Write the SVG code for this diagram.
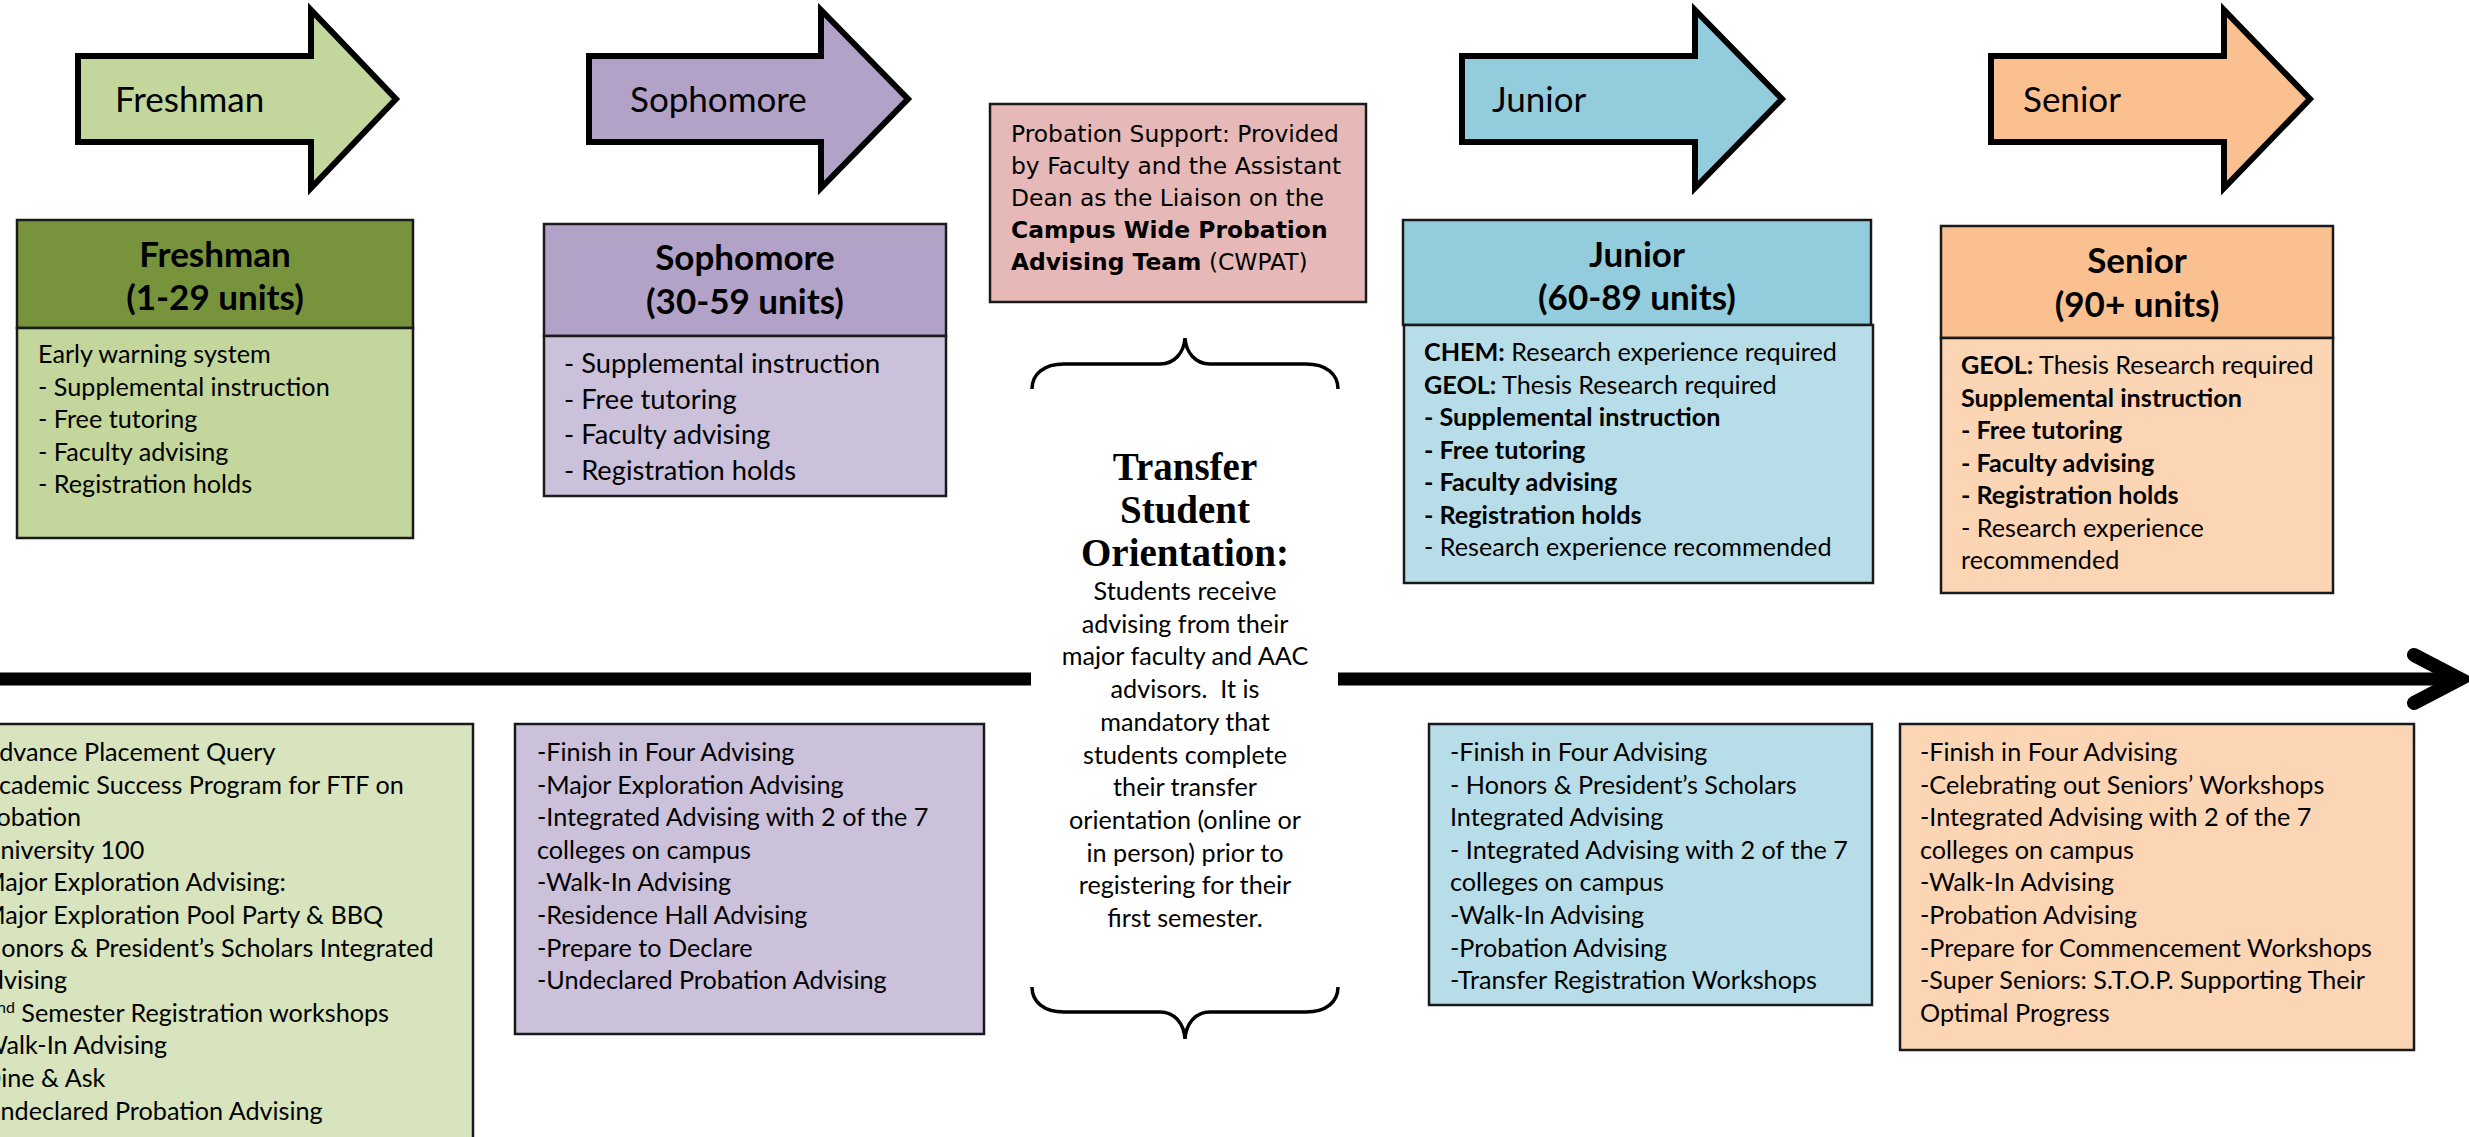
<svg xmlns="http://www.w3.org/2000/svg" width="2469" height="1137" viewBox="0 0 2469 1137">
<style>
.ar{stroke:#000;stroke-width:6;stroke-linejoin:miter}
.bx{stroke:#1a1a1a;stroke-width:2.5}
.al{font-family:Lato,"Liberation Sans",sans-serif;font-size:35px;fill:#000}
.hd{font-family:Lato,"Liberation Sans",sans-serif;font-size:35px;font-weight:bold;fill:#000;text-anchor:middle}
.t{font-family:Lato,"Liberation Sans",sans-serif;font-size:25.2px;fill:#000}
.tb{font-weight:bold}
.pv{font-family:"DejaVu Sans",Verdana,sans-serif;font-size:23.4px;fill:#000}
.ttl{font-family:"Liberation Serif","Times New Roman",serif;font-size:39px;font-weight:bold;fill:#000;text-anchor:middle}
.ctr{text-anchor:middle}
.br{fill:none;stroke:#000;stroke-width:3.5}
</style>

<g id="connectors">
  <line x1="-5" y1="679" x2="1031" y2="679" stroke="#000" stroke-width="13"/>
  <line x1="1338" y1="679" x2="2455" y2="679" stroke="#000" stroke-width="13"/>
  <polyline points="2414,655 2460,679 2414,703" fill="none" stroke="#000" stroke-width="14" stroke-linecap="round" stroke-linejoin="miter"/>
  <path class="br" d="M1032,389 C1032,374 1044,364 1064,364 L1160,364 C1175,364 1184,352 1185,338 C1186,352 1195,364 1210,364 L1306,364 C1326,364 1338,374 1338,389"/>
  <path class="br" d="M1032,987 C1032,1002 1044,1012 1064,1012 L1160,1012 C1175,1012 1184,1024 1185,1039 C1186,1024 1195,1012 1210,1012 L1306,1012 C1326,1012 1338,1002 1338,987"/>
</g>

<g id="arrow-freshman">
  <polygon class="ar" fill="#c3d69b" points="78,56 311,56 311,10 396,99 311,188 311,142 78,142"/>
  <text class="al" x="115" y="112">Freshman</text>
</g>
<g id="arrow-sophomore">
  <polygon class="ar" fill="#b3a2c7" points="589,56 821,56 821,10 908,99 821,188 821,142 589,142"/>
  <text class="al" x="630" y="112">Sophomore</text>
</g>
<g id="arrow-junior">
  <polygon class="ar" fill="#93cddd" points="1462,56 1695,56 1695,10 1782,99 1695,188 1695,142 1462,142"/>
  <text class="al" x="1492" y="112">Junior</text>
</g>
<g id="arrow-senior">
  <polygon class="ar" fill="#fac090" points="1991,56 2224,56 2224,10 2310,99 2224,188 2224,142 1991,142"/>
  <text class="al" x="2023" y="112">Senior</text>
</g>

<g id="box-freshman">
  <rect class="bx" x="17" y="220" width="396" height="108" fill="#77933c"/>
  <rect class="bx" x="17" y="328" width="396" height="210" fill="#c3d69b"/>
  <text class="hd" x="215" y="267">Freshman</text>
  <text class="hd" x="215" y="310">(1-29 units)</text>
  <text class="t" x="38" y="363">Early warning system</text>
  <text class="t" x="38" y="396">- Supplemental instruction</text>
  <text class="t" x="38" y="428">- Free tutoring</text>
  <text class="t" x="38" y="461">- Faculty advising</text>
  <text class="t" x="38" y="493">- Registration holds</text>
</g>

<g id="box-sophomore">
  <rect class="bx" x="544" y="224" width="402" height="112" fill="#b3a2c7"/>
  <rect class="bx" x="544" y="336" width="402" height="160" fill="#ccc1da"/>
  <text class="hd" x="745" y="270">Sophomore</text>
  <text class="hd" x="745" y="314">(30-59 units)</text>
  <text class="t" x="564" y="373" style="font-size:27.3px">- Supplemental instruction</text>
  <text class="t" x="564" y="409" style="font-size:27.3px">- Free tutoring</text>
  <text class="t" x="564" y="444" style="font-size:27.3px">- Faculty advising</text>
  <text class="t" x="564" y="480" style="font-size:27.3px">- Registration holds</text>
</g>

<g id="box-probation">
  <rect class="bx" x="990" y="104" width="376" height="198" fill="#e6b9b8"/>
  <text class="pv" x="1011" y="142">Probation Support: Provided</text>
  <text class="pv" x="1011" y="174">by Faculty and the Assistant</text>
  <text class="pv" x="1011" y="206">Dean as the Liaison on the</text>
  <text class="pv tb" x="1011" y="238">Campus Wide Probation</text>
  <text class="pv" x="1011" y="270"><tspan class="tb">Advising Team</tspan> (CWPAT)</text>
</g>

<g id="box-junior">
  <rect class="bx" x="1403" y="220" width="468" height="105" fill="#93cddd"/>
  <rect class="bx" x="1404" y="325" width="469" height="258" fill="#b7dee8"/>
  <text class="hd" x="1637" y="267">Junior</text>
  <text class="hd" x="1637" y="310">(60-89 units)</text>
  <text class="t" x="1424" y="361"><tspan class="tb">CHEM:</tspan> Research experience required</text>
  <text class="t" x="1424" y="393.5"><tspan class="tb">GEOL:</tspan> Thesis Research required</text>
  <text class="t tb" x="1424" y="426">- Supplemental instruction</text>
  <text class="t tb" x="1424" y="458.5">- Free tutoring</text>
  <text class="t tb" x="1424" y="491">- Faculty advising</text>
  <text class="t tb" x="1424" y="523.5">- Registration holds</text>
  <text class="t" x="1424" y="556">- Research experience recommended</text>
</g>

<g id="box-senior">
  <rect class="bx" x="1941" y="226" width="392" height="112" fill="#fac090"/>
  <rect class="bx" x="1941" y="338" width="392" height="255" fill="#fcd5b5"/>
  <text class="hd" x="2137" y="273">Senior</text>
  <text class="hd" x="2137" y="317">(90+ units)</text>
  <text class="t" x="1961" y="374"><tspan class="tb">GEOL:</tspan> Thesis Research required</text>
  <text class="t tb" x="1961" y="406.5">Supplemental instruction</text>
  <text class="t tb" x="1961" y="439">- Free tutoring</text>
  <text class="t tb" x="1961" y="471.5">- Faculty advising</text>
  <text class="t tb" x="1961" y="504">- Registration holds</text>
  <text class="t" x="1961" y="536.5">- Research experience</text>
  <text class="t" x="1961" y="569">recommended</text>
</g>

<g id="transfer-orientation">
  <text class="ttl" x="1185" y="480">Transfer</text>
  <text class="ttl" x="1185" y="523">Student</text>
  <text class="ttl" x="1185" y="566">Orientation:</text>
  <text class="t ctr" x="1185" y="600">Students receive</text>
  <text class="t ctr" x="1185" y="632.7">advising from their</text>
  <text class="t ctr" x="1185" y="665.4">major faculty and AAC</text>
  <text class="t ctr" x="1185" y="698.1" xml:space="preserve">advisors.  It is</text>
  <text class="t ctr" x="1185" y="730.8">mandatory that</text>
  <text class="t ctr" x="1185" y="763.5">students complete</text>
  <text class="t ctr" x="1185" y="796.2">their transfer</text>
  <text class="t ctr" x="1185" y="828.9">orientation (online or</text>
  <text class="t ctr" x="1185" y="861.6">in person) prior to</text>
  <text class="t ctr" x="1185" y="894.3">registering for their</text>
  <text class="t ctr" x="1185" y="927">first semester.</text>
</g>

<g id="activities-freshman">
  <rect class="bx" x="-10" y="724" width="483" height="460" fill="#d7e4bd"/>
  <text class="t" x="-27" y="761">-Advance Placement Query</text>
  <text class="t" x="-27" y="793.6">-Academic Success Program for FTF on</text>
  <text class="t" x="-27" y="826.2">Probation</text>
  <text class="t" x="-27" y="858.8">-University 100</text>
  <text class="t" x="-27" y="891.4">-Major Exploration Advising:</text>
  <text class="t" x="-27" y="924">-Major Exploration Pool Party &amp; BBQ</text>
  <text class="t" x="-27" y="956.6">-Honors &amp; President’s Scholars Integrated</text>
  <text class="t" x="-27" y="989.2">Advising</text>
  <text class="t" x="-27" y="1021.8">-2<tspan font-size="16" dy="-9">nd</tspan><tspan dy="9"> Semester Registration workshops</tspan></text>
  <text class="t" x="-27" y="1054.4">-Walk-In Advising</text>
  <text class="t" x="-27" y="1087">-Dine &amp; Ask</text>
  <text class="t" x="-27" y="1119.6">-Undeclared Probation Advising</text>
</g>

<g id="activities-sophomore">
  <rect class="bx" x="515" y="724" width="469" height="310" fill="#ccc1da"/>
  <text class="t" x="537" y="761">-Finish in Four Advising</text>
  <text class="t" x="537" y="793.6">-Major Exploration Advising</text>
  <text class="t" x="537" y="826.2">-Integrated Advising with 2 of the 7</text>
  <text class="t" x="537" y="858.8">colleges on campus</text>
  <text class="t" x="537" y="891.4">-Walk-In Advising</text>
  <text class="t" x="537" y="924">-Residence Hall Advising</text>
  <text class="t" x="537" y="956.6">-Prepare to Declare</text>
  <text class="t" x="537" y="989.2">-Undeclared Probation Advising</text>
</g>

<g id="activities-junior">
  <rect class="bx" x="1429" y="724" width="443" height="281" fill="#b7dee8"/>
  <text class="t" x="1450" y="761">-Finish in Four Advising</text>
  <text class="t" x="1450" y="793.6">- Honors &amp; President’s Scholars</text>
  <text class="t" x="1450" y="826.2">Integrated Advising</text>
  <text class="t" x="1450" y="858.8">- Integrated Advising with 2 of the 7</text>
  <text class="t" x="1450" y="891.4">colleges on campus</text>
  <text class="t" x="1450" y="924">-Walk-In Advising</text>
  <text class="t" x="1450" y="956.6">-Probation Advising</text>
  <text class="t" x="1450" y="989.2">-Transfer Registration Workshops</text>
</g>

<g id="activities-senior">
  <rect class="bx" x="1900" y="724" width="514" height="326" fill="#fcd5b5"/>
  <text class="t" x="1920" y="761">-Finish in Four Advising</text>
  <text class="t" x="1920" y="793.6">-Celebrating out Seniors’ Workshops</text>
  <text class="t" x="1920" y="826.2">-Integrated Advising with 2 of the 7</text>
  <text class="t" x="1920" y="858.8">colleges on campus</text>
  <text class="t" x="1920" y="891.4">-Walk-In Advising</text>
  <text class="t" x="1920" y="924">-Probation Advising</text>
  <text class="t" x="1920" y="956.6">-Prepare for Commencement Workshops</text>
  <text class="t" x="1920" y="989.2">-Super Seniors: S.T.O.P. Supporting Their</text>
  <text class="t" x="1920" y="1021.8">Optimal Progress</text>
</g>
</svg>
